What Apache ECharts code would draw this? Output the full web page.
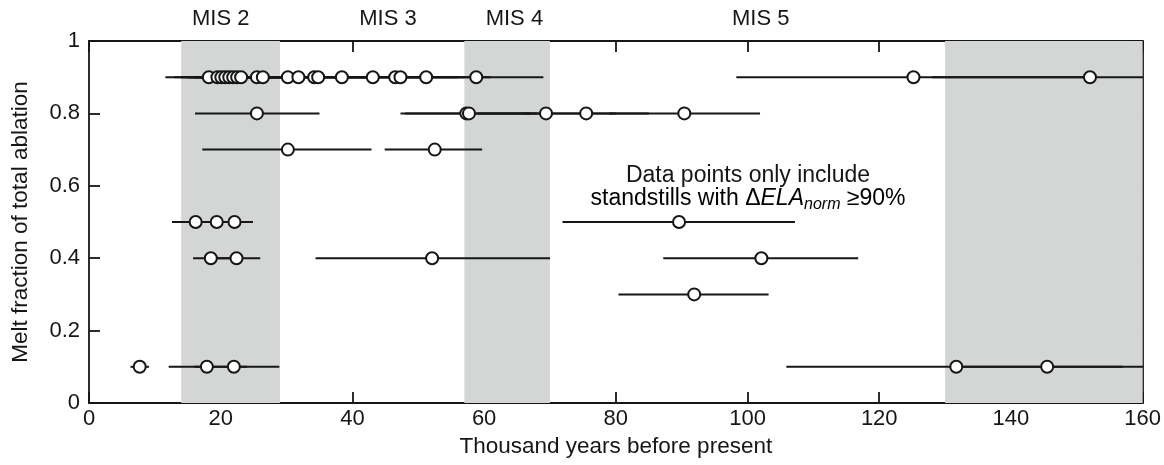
<!DOCTYPE html>
<html><head><meta charset="utf-8">
<script src="https://cdn.jsdelivr.net/npm/echarts@6/dist/echarts.min.js"></script>
<style>html,body{margin:0;padding:0;background:#fff}#c{width:1164px;height:465px}</style>
</head><body><div id="c"></div>
<script>
// ---- data ----
const xTickValues = [0, 20, 40, 60, 80, 100, 120, 140, 160];
const yTickValues = [0, 0.2, 0.4, 0.6, 0.8, 1];
const misLabels = ['MIS 2', 'MIS 3', 'MIS 4', 'MIS 5'];
const misLabelAge = [20, 45.4, 64.6, 102];
const shadeStart = [14, 57, 130];
const shadeEnd = [29, 70, 160];

const meltFraction = [
  0.9,0.9,0.9,0.9,0.9,0.9,0.9,0.9,0.9,0.9,0.9,0.9,0.9,0.9,0.9,0.9,0.9,0.9,0.9,0.9,0.9,0.9,
  0.8,0.8,0.8,0.8,0.8,0.8,
  0.7,0.7,
  0.5,0.5,0.5,0.5,
  0.4,0.4,0.4,0.4,
  0.3,
  0.1,0.1,0.1,0.1,0.1
];
const ageKa = [
  18.2,19.5,20.1,20.7,21.3,21.9,22.5,23.1,25.5,26.4,30.2,31.8,34.2,34.8,38.4,43.1,46.5,47.3,51.2,58.8,125.2,152,
  25.5,57.3,57.7,69.4,75.5,90.4,
  30.2,52.5,
  16.2,19.4,22.1,89.6,
  18.5,22.4,52.1,102.1,
  91.9,
  7.7,17.9,22.0,131.7,145.5
];
const ageLow = [
  11.6,13,14,15,15,16,16,17,19,20,22,24,26,27,30,34,37,38,41,48,98.3,128,
  16.1,47.3,48,59,66,79,
  17.2,44.9,
  12.6,15,19,71.9,
  15.8,19.5,34.4,87.2,
  80.4,
  6.3,12.1,16,105.9,131
];
const ageHigh = [
  26,27,28,27,28,29,30,30,33,34,38,40,43,44,47,52,56,57,61,69,152,176,
  35.0,67,68,80,85,101.9,
  42.9,59.7,
  20,23,24.9,107.2,
  21.5,26.0,70.0,116.8,
  103.2,
  9.1,24,28.9,157,162
];

// ---- chart ----
const chart = echarts.init(document.getElementById('c'), null, {renderer: 'canvas'});
const FONT = 'Liberation Sans, Arial, sans-serif';
const INK = '#161616';

const barData = ageKa.map((a, i) => [ageLow[i], ageHigh[i], meltFraction[i]]);
const pointData = ageKa.map((a, i) => [a, meltFraction[i]]);

const axisCommon = {
  axisLine: {show: true, onZero: false, lineStyle: {color: INK, width: 1.8}},
  axisTick: {show: true, inside: true, length: 11, lineStyle: {color: INK, width: 1.8}},
  splitLine: {show: false}
};

chart.setOption({
  animation: false,
  backgroundColor: '#fff',
  grid: {left: 89, right: 20, top: 41, bottom: 62},
  xAxis: [
    Object.assign({
      type: 'value', min: 0, max: 160, interval: 20, position: 'bottom',
      name: 'Thousand years before present', nameLocation: 'middle', nameGap: 31,
      nameTextStyle: {fontSize: 22.5, color: INK, fontFamily: FONT},
      axisLabel: {fontSize: 22, color: INK, fontFamily: FONT, margin: 5,
        formatter: v => xTickValues.includes(v) ? String(v) : ''}
    }, axisCommon),
    Object.assign({
      type: 'value', min: 0, max: 160, interval: 20, position: 'top',
      axisLabel: {show: false}
    }, axisCommon)
  ],
  yAxis: [
    Object.assign({
      type: 'value', min: 0, max: 1, interval: 0.2, position: 'left',
      name: 'Melt fraction of total ablation', nameLocation: 'middle', nameGap: 57, nameRotate: 90,
      nameTextStyle: {fontSize: 22.5, color: INK, fontFamily: FONT},
      axisLabel: {fontSize: 22, color: INK, fontFamily: FONT, margin: 9,
        formatter: v => yTickValues.some(t => Math.abs(t - v) < 1e-9) ? String(+v.toFixed(1)) : ''}
    }, axisCommon),
    Object.assign({
      type: 'value', min: 0, max: 1, interval: 0.2, position: 'right',
      axisLabel: {show: false}
    }, axisCommon)
  ],
  series: [
    {
      type: 'line', data: [], z: 0, silent: true,
      markArea: {
        silent: true,
        itemStyle: {color: '#d4d6d6'},
        data: shadeStart.map((s, i) => [{xAxis: s}, {xAxis: shadeEnd[i]}])
      }
    },
    {
      type: 'custom', z: 2, clip: true,
      data: barData,
      renderItem: function (params, api) {
        const p1 = api.coord([api.value(0), api.value(2)]);
        const p2 = api.coord([api.value(1), api.value(2)]);
        return {
          type: 'line',
          shape: {x1: p1[0], y1: p1[1], x2: p2[0], y2: p2[1]},
          style: {stroke: INK, lineWidth: 2}
        };
      }
    },
    {
      type: 'scatter', z: 3, data: pointData, symbol: 'circle', symbolSize: 12,
      itemStyle: {color: '#fff', borderColor: INK, borderWidth: 2, opacity: 1}
    }
  ]
});

function placeText() {
  const g = [];
  misLabels.forEach((t, i) => {
    const x = chart.convertToPixel({xAxisIndex: 0}, misLabelAge[i]);
    g.push({type: 'text', x: x, y: 19, style: {text: t, fill: INK, font: '22px ' + FONT, textAlign: 'center', textVerticalAlign: 'middle'}});
  });
  g.push({type: 'text', x: 748, y: 176, style: {text: 'Data points only include', fill: INK, font: '23px ' + FONT, textAlign: 'center', textVerticalAlign: 'middle'}});
  g.push({type: 'text', x: 748, y: 199, style: {
    text: '{n|standstills with Δ}{i|ELA}{s|norm}{n| ≥90%}',
    textAlign: 'center', textVerticalAlign: 'middle',
    rich: {
      n: {fontSize: 23, fontFamily: FONT, color: INK},
      i: {fontSize: 23, fontFamily: FONT, fontStyle: 'italic', color: INK},
      s: {fontSize: 16, fontFamily: FONT, fontStyle: 'italic', color: INK, padding: [12, 0, 0, 0]}
    }
  }});
  chart.setOption({graphic: g});
}
placeText();
</script>
</body></html>
